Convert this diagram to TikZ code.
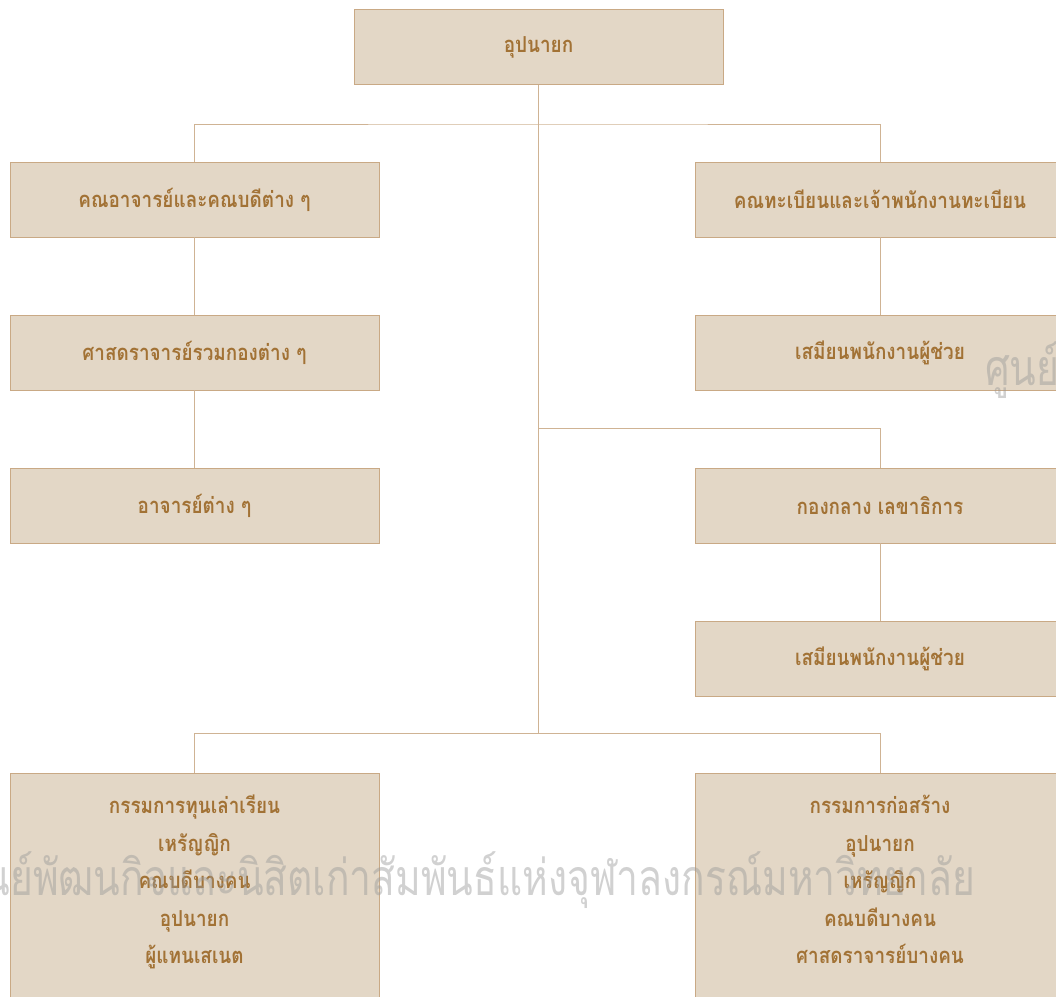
\documentclass[tikz,border=0pt]{standalone}
\usepackage{fontspec}
\newfontfamily\thaifont[Script=Thai, FakeStretch=0.86]{Loma}
\newfontfamily\stampfont[Script=Thai, FakeStretch=0.78]{Loma}
\usetikzlibrary{positioning}
\definecolor{boxfill}{HTML}{E3D7C6}
\definecolor{boxline}{HTML}{C9A985}
\definecolor{linkline}{HTML}{CFB394}
\definecolor{textbrown}{HTML}{A27235}

\begin{document}
\begin{tikzpicture}[x=1pt, y=1pt, node distance={78pt},
  main/.style = {draw=boxline, fill=boxfill, line width=1pt, minimum width=369pt, minimum height=75pt, inner sep=0pt, outer sep=0pt, text=textbrown, font=\thaifont\bfseries\fontsize{22}{26}\selectfont},
  memo/.style = {inner sep=0pt, align=center, text=textbrown, font=\thaifont\bfseries\fontsize{22}{37.5}\selectfont},
  stamp/.style = {inner sep=0pt, text=black!40, opacity=0.45, font=\stampfont\fontsize{50}{56}\selectfont},
  link/.style = {draw=linkline, line width=1pt}]
\useasboundingbox (0,0) rectangle (1056,-996);
\clip (0,0) rectangle (1056,-996);

% top of the chart
\node[main] (top) at (538.5,-47) {อุปนายก};

% left column
\node[main] (fac) at (194.5,-199.5) {คณอาจารย์และคณบดีต่าง ๆ};
\node[main] (prof) [below=of fac] {ศาสดราจารย์รวมกองต่าง ๆ};
\node[main] (lect) [below=of prof] {อาจารย์ต่าง ๆ};

% right column
\node[main] (reg) at (880,-199.5) {คณทะเบียนและเจ้าพนักงานทะเบียน};
\node[main] (clerk1) [below=of reg] {เสมียนพนักงานผู้ช่วย};
\node[main] (sec) [below=of clerk1] {กองกลาง เลขาธิการ};
\node[main] (clerk2) [below=of sec] {เสมียนพนักงานผู้ช่วย};

% committees
\node[main, minimum height=250pt, anchor=north] (fund) at (194.5,-773) {};
\node[main, minimum height=250pt, anchor=north] (build) at (880,-773) {};
\node[memo, anchor=north] (fundtxt) at ([yshift=-22pt]fund.north) {กรรมการทุนเล่าเรียน\\เหรัญญิก\\คณบดีบางคน\\อุปนายก\\ผู้แทนเสเนต};
\node[memo, anchor=north] (buildtxt) at ([yshift=-22pt]build.north) {กรรมการก่อสร้าง\\อุปนายก\\เหรัญญิก\\คณบดีบางคน\\ศาสดราจารย์บางคน};

\coordinate (bus1) at (538.5,-124);
\coordinate (bus2) at (538.5,-428);
\coordinate (bus3) at (538.5,-733);

\draw[link] (top) -- (bus3);
\draw[link] (fac) |- (bus1) -| (reg);
\draw[link] (bus2) -| (sec);
\draw[link] (fund) |- (bus3) -| (build);
\draw[link] (fac) -- (prof);
\draw[link] (prof) -- (lect);
\draw[link] (reg) -- (clerk1);
\draw[link] (sec) -- (clerk2);

% watermark
\node[stamp, anchor=east] (stamp1) at (975,-880) {ศูนย์พัฒนกิจและนิสิตเก่าสัมพันธ์แห่งจุฬาลงกรณ์มหาวิทยาลัย};
\node[stamp, anchor=west] (stamp2) at (985,-370) {ศูนย์พัฒนกิจและนิสิตเก่าสัมพันธ์แห่งจุฬาลงกรณ์มหาวิทยาลัย};
\end{tikzpicture}
\end{document}
